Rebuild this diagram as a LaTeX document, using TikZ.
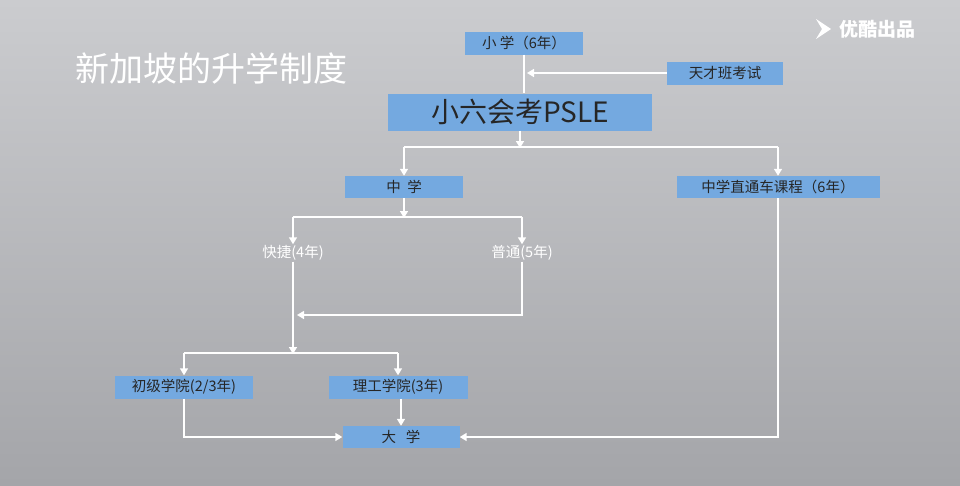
\documentclass[tikz,border=0pt]{standalone}
\usepackage{fontspec}
\setmainfont{Noto Sans CJK SC}
\usetikzlibrary{arrows.meta}
\definecolor{boxblue}{HTML}{74A9E0}
\definecolor{bgtop}{HTML}{CBCCCF}
\definecolor{bgbot}{HTML}{A4A5A9}
\begin{document}
\begin{tikzpicture}[x=1pt,y=-1pt,
  bx/.style={fill=boxblue,text=black!85,font=\fontsize{14.5}{16}\selectfont,inner sep=0pt,anchor=center},
  tx/.style={text=white,font=\fontsize{14.5}{16}\selectfont,inner sep=1pt},
  ln/.style={draw=white,line width=1.5pt},
  ar/.style={ln,-{Triangle[width=8pt,length=7pt]}}]
\shade[top color=bgtop,bottom color=bgbot] (0,0) rectangle (960,485);
\useasboundingbox (0,0) rectangle (960,485);
\node[text=white,font=\fontsize{34}{38}\selectfont,anchor=west] (title) at (72,68) {新加坡的升学制度};
\node[text=white,font=\fontsize{19}{22}\selectfont\bfseries,anchor=west] (logo) at (836,29) {优酷出品};
\fill[white] (816,19) -- (831,29) -- (816,39) -- (822,29) -- cycle;
\node[bx,minimum width=118pt,minimum height=23pt] (xx) at (524,43) {小\ 学（6年）};
\node[bx,minimum width=116pt,minimum height=23pt] (tc) at (725,73) {天才班考试};
\node[bx,minimum width=264pt,minimum height=37pt,font=\fontsize{28}{30}\selectfont] (ps) at (520,112) {小六会考PSLE};
\node[bx,minimum width=118pt,minimum height=22pt] (zx) at (404,187) {中\ \ 学};
\node[bx,minimum width=203pt,minimum height=22pt] (zt) at (778,187) {中学直通车课程（6年）};
\node[tx] (kj) at (293,253) {快捷(4年)};
\node[tx] (pt) at (522,253) {普通(5年)};
\node[bx,minimum width=138pt,minimum height=23pt] (cj) at (184,387) {初级学院(2/3年)};
\node[bx,minimum width=139pt,minimum height=23pt] (lg) at (398,387) {理工学院(3年)};
\node[bx,minimum width=117pt,minimum height=22pt] (dx) at (401,437) {大\ \ \ 学};
\coordinate (j1) at (524,73);
\coordinate (p1) at (520,147);
\coordinate (z1) at (404,217);
\coordinate (k1) at (293,353);
\coordinate (m1) at (293,315);
\draw[ln] (xx.south-|j1) -- (ps.north-|j1);
\draw[ar] (tc.west) -- ([xshift=3pt]j1);
\draw[ar] (ps.south-|p1) -- ([yshift=-1pt]p1);
\draw[ln] (p1) -- (p1-|zx) ;
\draw[ln] (p1) -- (p1-|zt);
\draw[ar] (p1-|zx) -- (zx.north);
\draw[ar] (p1-|zt) -- (zt.north);
\draw[ar] (zx.south) -- ([yshift=-1pt]z1);
\draw[ln] (z1-|kj) -- (z1-|pt);
\draw[ar] (z1-|kj) -- (kj.north);
\draw[ar] (z1-|pt) -- (pt.north);
\draw[ar] (kj.south) -- ([yshift=-1pt]k1);
\draw[ar] (pt.south) |- ([xshift=4pt]m1);
\draw[ln] (k1-|cj) -- (k1-|lg);
\draw[ar] (k1-|cj) -- (cj.north);
\draw[ar] (k1-|lg) -- (lg.north);
\draw[ar] (cj.south) |- (dx.west);
\draw[ar] (lg.south-|dx) -- (dx.north);
\draw[ar] (zt.south) |- (dx.east);
\end{tikzpicture}
\end{document}
